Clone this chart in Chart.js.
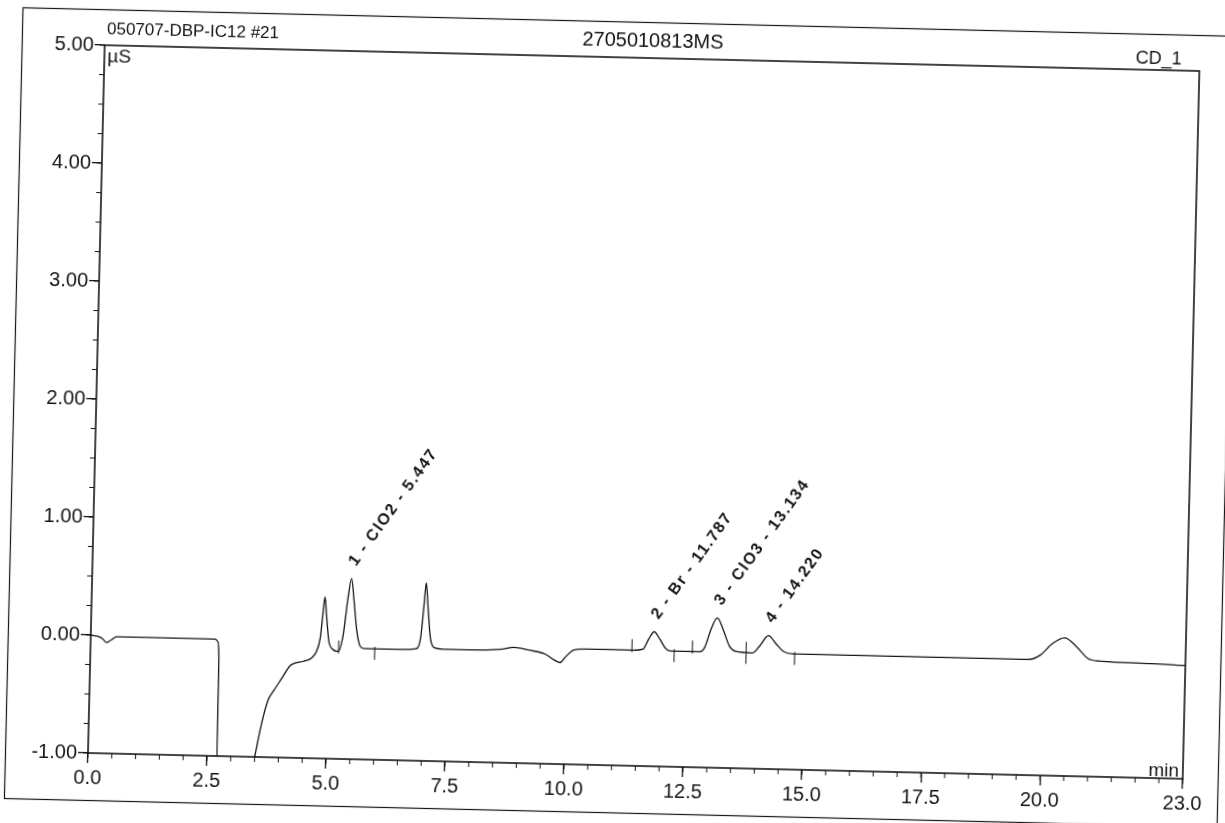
<!DOCTYPE html>
<html>
<head>
<meta charset="utf-8">
<script src="https://cdn.jsdelivr.net/npm/chart.js@4.4.1/dist/chart.umd.min.js"></script>
<style>
  html, body { margin: 0; padding: 0; background: #fff; overflow: hidden; }
  #sheet { position: absolute; left: 0; top: 0; width: 1225px; height: 823px;
           transform-origin: 88px 753px; transform: rotate(1.35deg); }
</style>
</head>
<body>
<div id="sheet"><canvas id="chart" width="1225" height="823"></canvas></div>
<script>
// chromatogram trace (time in min, signal in µS)
const runTime = [0.00, 0.15, 0.25, 0.33, 0.42, 0.55, 1.00, 1.80, 2.40, 2.62, 2.67, 2.70, 2.71, 3.45,
  3.51, 3.59, 3.66, 3.76, 3.86, 4.03, 4.20, 4.28, 4.48, 4.65, 4.74, 4.82, 4.87, 4.90, 4.94, 5.00,
  5.08, 5.20, 5.30, 5.38, 5.45, 5.51, 5.58, 5.66, 5.75, 6.00, 6.50, 6.85, 6.93, 6.98, 7.02, 7.07,
  7.13, 7.22, 7.40, 8.00, 8.60, 8.90, 9.20, 9.55, 9.75, 9.87, 9.98, 10.15, 10.40, 11.40, 11.60,
  11.72, 11.83, 11.95, 12.08, 12.20, 12.80, 12.90, 13.02, 13.15, 13.28, 13.42, 13.55, 13.90, 14.05,
  14.23, 14.40, 14.55, 14.75, 16.00, 18.00, 19.70, 19.95, 20.20, 20.45, 20.70, 20.95, 21.20, 22.30, 23.00];
const signal = [0.00, -0.01, -0.03, -0.06, -0.04, -0.01, -0.01, -0.01, -0.01, -0.01, -0.03, -0.15, -1.10, -1.10,
  -0.98, -0.80, -0.66, -0.51, -0.44, -0.33, -0.22, -0.20, -0.18, -0.15, -0.10, 0.02, 0.25, 0.37, 0.22, 0.00,
  -0.07, -0.09, 0.05, 0.35, 0.53, 0.35, 0.10, -0.04, -0.06, -0.06, -0.06, -0.05, 0.05, 0.30, 0.51, 0.30,
  0.05, -0.04, -0.05, -0.05, -0.04, -0.02, -0.04, -0.07, -0.12, -0.14, -0.09, -0.03, -0.02, -0.02, -0.01,
  0.08, 0.14, 0.08, 0.00, -0.02, -0.02, 0.02, 0.17, 0.27, 0.17, 0.03, -0.01, -0.02, 0.04,
  0.13, 0.06, 0.00, -0.02, -0.02, -0.02, -0.02, 0.02, 0.12, 0.17, 0.10, 0.00, -0.02, -0.03, -0.04];

// named peaks
const peakNames = ['1 - ClO2 - 5.447', '2 - Br - 11.787', '3 - ClO3 - 13.134', '4 - 14.220'];
const peakTimes = [5.45, 11.83, 13.15, 14.23];
const peakHeights = [0.53, 0.14, 0.27, 0.13];

// integration start / end marks
const markTimes = [5.21, 5.97, 11.37, 12.26, 12.64, 13.77, 14.79];
const markLevels = [-0.09, -0.06, -0.02, -0.02, -0.02, -0.02, -0.02];
const markSides = ['up', 'down', 'up', 'down', 'up', 'both', 'down'];

// axes
const xTickValues = [0, 2.5, 5, 7.5, 10, 12.5, 15, 17.5, 20, 23];
const yTickValues = [-1, 0, 1, 2, 3, 4, 5];
const xMinorStep = 0.5;
const yMinorStep = 0.25;

const sampleName = '050707-DBP-IC12 #21';
const sequenceName = '2705010813MS';
const channelName = 'CD_1';
const yUnit = 'µS';
const xUnit = 'min';

const FONT = "'Liberation Sans', Arial, sans-serif";
const INK = '#141414';

const printout = {
  id: 'printout',
  afterDraw(chart) {
    const c = chart.ctx;
    const a = chart.chartArea;
    const xs = chart.scales.x, ys = chart.scales.y;
    c.save();
    c.strokeStyle = INK;
    c.fillStyle = INK;

    // page frame and plot frame
    c.lineWidth = 1.2;
    c.strokeRect(5.5, 9.5, 1213, 791);
    c.lineWidth = 1.6;
    c.strokeRect(a.left, a.top, a.right - a.left, a.bottom - a.top);

    // minor ticks
    c.lineWidth = 1;
    c.beginPath();
    for (let t = 0; t <= 23.001; t += xMinorStep) {
      const px = xs.getPixelForValue(t);
      c.moveTo(px, a.bottom); c.lineTo(px, a.bottom + 5);
    }
    for (let v = -1; v <= 5.001; v += yMinorStep) {
      const py = ys.getPixelForValue(v);
      c.moveTo(a.left, py); c.lineTo(a.left - 5, py);
    }
    c.stroke();

    // integration marks
    c.beginPath();
    markTimes.forEach((t, i) => {
      const px = xs.getPixelForValue(t);
      const py = ys.getPixelForValue(markLevels[i]);
      const side = markSides[i];
      const y1 = side === 'down' ? py - 2 : py - 11;
      const y2 = side === 'up' ? py + 2 : py + 11;
      c.moveTo(px, y1); c.lineTo(px, y2);
    });
    c.stroke();

    // header texts
    c.textBaseline = 'alphabetic';
    c.font = '17px ' + FONT;
    c.textAlign = 'left';
    c.fillText(sampleName, a.left + 2, a.top - 11);
    c.font = '20px ' + FONT;
    c.textAlign = 'center';
    c.fillText(sequenceName, 636, a.top - 11);
    c.font = '18px ' + FONT;
    c.textAlign = 'right';
    c.fillText(channelName, a.right - 18, a.top - 6);
    c.font = '19px ' + FONT;
    c.textAlign = 'left';
    c.textBaseline = 'top';
    c.fillText(yUnit, a.left + 3, a.top + 2);
    c.textAlign = 'right';
    c.textBaseline = 'alphabetic';
    c.fillText(xUnit, a.right - 4, a.bottom - 2);

    // peak names, slanted
    c.font = 'bold 16px ' + FONT;
    if ('letterSpacing' in c) c.letterSpacing = '1.6px';
    c.textAlign = 'left';
    peakNames.forEach((name, i) => {
      const px = xs.getPixelForValue(peakTimes[i]);
      const py = ys.getPixelForValue(peakHeights[i]);
      c.save();
      c.translate(px + 4, py - 12);
      c.rotate(-55.5 * Math.PI / 180);
      c.fillText(name, 0, 0);
      c.restore();
    });
    c.restore();
  }
};

const ctx = document.getElementById('chart').getContext('2d');
const chart = new Chart(ctx, {
  type: 'line',
  data: {
    datasets: [{
      label: sampleName,
      data: runTime.map((t, i) => ({ x: t, y: signal[i] })),
      borderColor: INK,
      borderWidth: 1.3,
      pointRadius: 0,
      cubicInterpolationMode: 'monotone',
      fill: false
    }]
  },
  options: {
    responsive: false,
    animation: false,
    layout: { padding: { left: 28, right: 42, top: 45, bottom: 20 } },
    plugins: { legend: { display: false }, tooltip: { enabled: false } },
    scales: {
      x: {
        type: 'linear', min: 0, max: 23,
        afterBuildTicks: s => { s.ticks = xTickValues.map(v => ({ value: v })); },
        afterFit: s => { s.height = 50; },
        ticks: { callback: v => v.toFixed(1), color: INK, font: { family: FONT, size: 20 },
                 maxRotation: 0, autoSkip: false, padding: 3 },
        grid: { drawOnChartArea: false, tickLength: 10, color: INK, lineWidth: 1.3 },
        border: { display: false }
      },
      y: {
        min: -1, max: 5,
        afterBuildTicks: s => { s.ticks = yTickValues.map(v => ({ value: v })); },
        afterFit: s => { s.width = 60; },
        ticks: { callback: v => v.toFixed(2), color: INK, font: { family: FONT, size: 20 },
                 autoSkip: false, padding: 1 },
        grid: { drawOnChartArea: false, tickLength: 10, color: INK, lineWidth: 1.3 },
        border: { display: false }
      }
    }
  },
  plugins: [printout]
});
</script>
</body>
</html>
